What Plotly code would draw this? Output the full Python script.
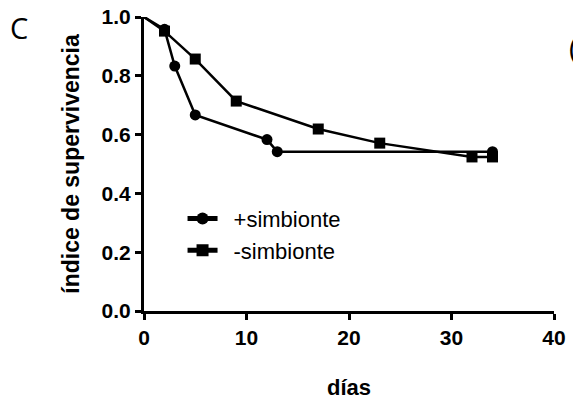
import plotly.graph_objects as go

# Survival index over time for the two groups
days_plus = [0, 2, 3, 5, 12, 13, 34]
surv_plus = [1.0, 0.958, 0.833, 0.667, 0.583, 0.542, 0.542]

days_minus = [0, 2, 5, 9, 17, 23, 32, 34]
surv_minus = [1.0, 0.952, 0.857, 0.714, 0.619, 0.571, 0.524, 0.524]

series_names = ["+simbionte", "-simbionte"]

x_ticks = [0, 10, 20, 30, 40]
y_ticks = [0.0, 0.2, 0.4, 0.6, 0.8, 1.0]
y_tick_text = ["0.0", "0.2", "0.4", "0.6", "0.8", "1.0"]

FONT = "Arial, 'Liberation Sans', sans-serif"
MARK = 11
GAP = "\u2002"  # extra room between legend symbol and label


def marker_sizes(n):
    # no symbol at the starting point (day 0)
    return [0] + [MARK] * (n - 1)


def add_series(x, y, name, symbol):
    fig.add_trace(go.Scatter(
        x=x, y=y, name=GAP + name,
        mode="lines+markers", cliponaxis=False,
        line=dict(color="black", width=2.5),
        marker=dict(symbol=symbol, color="black", opacity=1,
                    size=marker_sizes(len(x)),
                    line=dict(width=0, color="black")),
    ))


fig = go.Figure()
add_series(days_plus, surv_plus, series_names[0], "circle")
add_series(days_minus, surv_minus, series_names[1], "square")

axis_common = dict(
    showline=True, linecolor="black", linewidth=3,
    ticks="outside", ticklen=6, tickwidth=3, tickcolor="black",
    showgrid=False, zeroline=False,
    tickfont=dict(family=FONT, size=21, color="black", weight="bold"),
)

fig.update_xaxes(
    range=[0, 40], tickvals=x_ticks,
    title=dict(text="días", font=dict(family=FONT, size=22, color="black", weight="bold"), standoff=32),
    **axis_common,
)
fig.update_yaxes(
    range=[0, 1], tickvals=y_ticks, ticktext=y_tick_text,
    title=dict(text="índice de supervivencia", font=dict(family=FONT, size=23, color="black", weight="bold"), standoff=16),
    **axis_common,
)

fig.update_layout(
    width=573, height=405,
    margin=dict(l=144, r=19, t=17, b=94, autoexpand=False),
    paper_bgcolor="white", plot_bgcolor="white",
    showlegend=True,
    legend=dict(
        x=0.094, y=0.385, xanchor="left", yanchor="top",
        font=dict(family=FONT, size=22, color="black"),
        bgcolor="rgba(0,0,0,0)", borderwidth=0,
        itemsizing="constant", itemwidth=30,
    ),
    annotations=[
        dict(text="C", xref="paper", yref="paper", x=-0.305, y=0.963,
             xanchor="center", yanchor="middle", showarrow=False,
             font=dict(family="'Open Sans', 'Noto Sans', sans-serif", size=29, color="black")),
        dict(text="(", xref="paper", yref="paper", x=1.032, y=0.895,
             xanchor="left", yanchor="middle", showarrow=False,
             font=dict(family="'Open Sans', 'Noto Sans', sans-serif", size=29, color="black")),
    ],
)

fig.write_html("out.html")
